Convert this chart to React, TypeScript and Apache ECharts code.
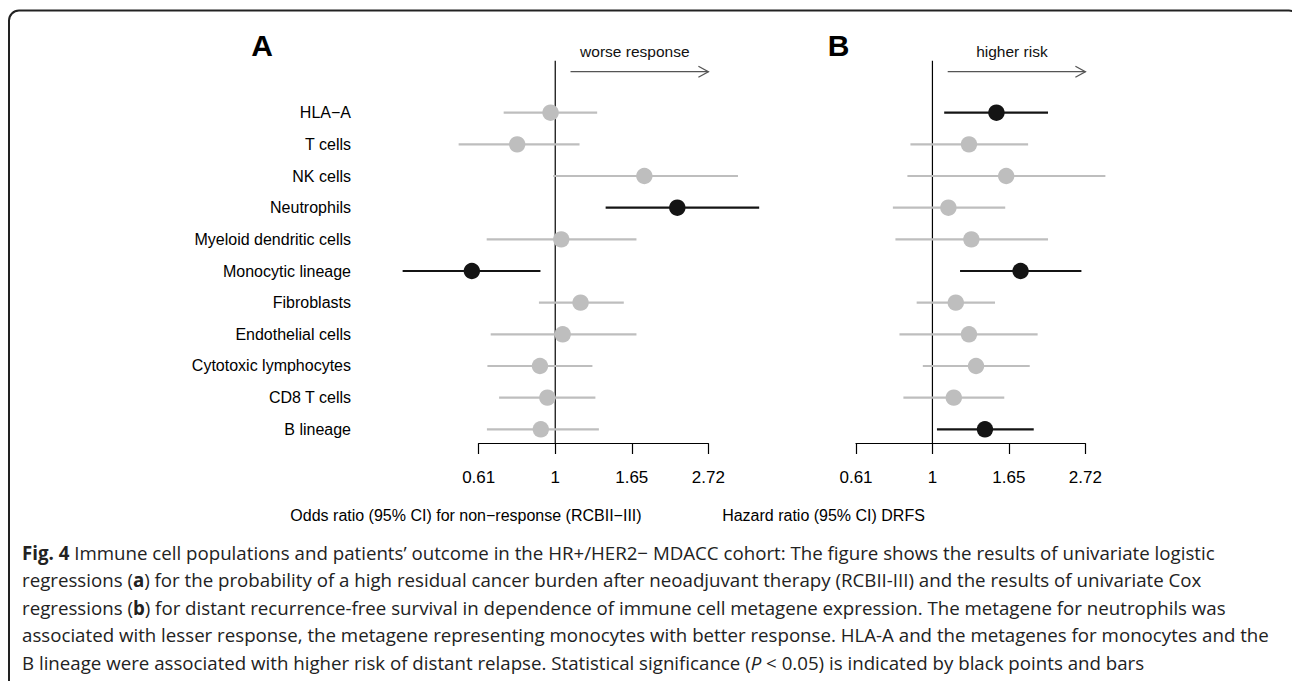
import React, { useEffect, useRef } from "react";
import * as echarts from "echarts";

// ---------------- data ----------------
const CATEGORIES = [
  "HLA−A",
  "T cells",
  "NK cells",
  "Neutrophils",
  "Myeloid dendritic cells",
  "Monocytic lineage",
  "Fibroblasts",
  "Endothelial cells",
  "Cytotoxic lymphocytes",
  "CD8 T cells",
  "B lineage",
];

// Panel A: odds ratio for non-response (RCBII-III)
const OR_EST = [0.97, 0.78, 1.79, 2.22, 1.04, 0.58, 1.18, 1.05, 0.905, 0.95, 0.91];
const OR_LOW = [0.714, 0.532, 0.987, 1.39, 0.639, 0.369, 0.899, 0.656, 0.642, 0.693, 0.64];
const OR_HIGH = [1.315, 1.172, 3.3, 3.79, 1.7, 0.908, 1.565, 1.7, 1.275, 1.3, 1.33];
const OR_SIG = [false, false, false, true, false, true, false, false, false, false, false];

// Panel B: hazard ratio DRFS
const HR_EST = [1.52, 1.27, 1.62, 1.11, 1.29, 1.78, 1.165, 1.27, 1.33, 1.15, 1.41];
const HR_LOW = [1.08, 0.866, 0.849, 0.772, 0.785, 1.198, 0.902, 0.806, 0.939, 0.827, 1.03];
const HR_HIGH = [2.13, 1.87, 3.1, 1.61, 2.13, 2.65, 1.506, 1.99, 1.89, 1.6, 1.94];
const HR_SIG = [true, false, false, false, false, true, false, false, false, false, true];

// axis ticks (natural-log scale): e^-0.5, e^0, e^0.5, e^1
const TICK_LABELS = ["0.61", "1", "1.65", "2.72"];

const PANEL_LETTERS = ["A", "B"];
const DIRECTION_LABELS = ["worse response", "higher risk"];
const AXIS_TITLES = [
  "Odds ratio (95% CI) for non−response (RCBII−III)",
  "Hazard ratio (95% CI) DRFS",
];
const ARROW_FROM = 1.105; // ratio where the direction arrow starts
const ARROW_TO = 2.72; // ratio where it ends

const CAPTION_LINES = [
  "{b|Fig. 4} Immune cell populations and patients’ outcome in the HR+/HER2− MDACC cohort: The figure shows the results of univariate logistic",
  "regressions ({b|a}) for the probability of a high residual cancer burden after neoadjuvant therapy (RCBII-III) and the results of univariate Cox",
  "regressions ({b|b}) for distant recurrence-free survival in dependence of immune cell metagene expression. The metagene for neutrophils was",
  "associated with lesser response, the metagene representing monocytes with better response. HLA-A and the metagenes for monocytes and the",
  "B lineage were associated with higher risk of distant relapse. Statistical significance ({i|P} < 0.05) is indicated by black points and bars",
];

// ---------------- styles ----------------
const GRAY = "#bebebe";
const BLACK = "#141414";
const SANS = "'Liberation Sans', Arial, Helvetica, sans-serif";
const CAP_FONT = "'Open Sans', 'Noto Sans', sans-serif";
const CAP_SIZE = 18.7;

function buildRows(est: number[], lo: number[], hi: number[], sig: boolean[]) {
  return est.map((e, i) => [i, Math.log(e), Math.log(lo[i]), Math.log(hi[i]), sig[i] ? 1 : 0]);
}

function forestItem(params: any, api: any) {
  const row = api.value(0);
  const pE = api.coord([api.value(1), row]);
  const pL = api.coord([api.value(2), row]);
  const pH = api.coord([api.value(3), row]);
  const color = api.value(4) ? BLACK : GRAY;
  return {
    type: "group",
    children: [
      {
        type: "line",
        shape: { x1: pL[0], y1: pL[1], x2: pH[0], y2: pH[1] },
        style: { stroke: color, lineWidth: 2.2 },
      },
      {
        type: "circle",
        shape: { cx: pE[0], cy: pE[1], r: 8.2 },
        style: { fill: color },
      },
    ],
  };
}

function refItem(label: string) {
  return (params: any, api: any) => {
    const top = api.coord([0, 0]);
    const bot = api.coord([0, CATEGORIES.length - 1]);
    const a0 = api.coord([Math.log(ARROW_FROM), 0]);
    const a1 = api.coord([Math.log(ARROW_TO), 0]);
    const tx = api.coord([0.52, 0]);
    const ay = top[1] - 41;
    return {
      type: "group",
      children: [
        {
          type: "line",
          shape: { x1: top[0], y1: top[1] - 52, x2: top[0], y2: bot[1] + 14 },
          style: { stroke: "#000", lineWidth: 1.2 },
        },
        {
          type: "line",
          shape: { x1: a0[0], y1: ay, x2: a1[0], y2: ay },
          style: { stroke: "#555", lineWidth: 1.3 },
        },
        {
          type: "polyline",
          shape: { points: [[a1[0] - 10, ay - 5.5], [a1[0], ay], [a1[0] - 10, ay + 5.5]] },
          style: { stroke: "#555", lineWidth: 1.3, fill: "none" },
        },
        {
          type: "text",
          style: {
            text: label,
            x: tx[0],
            y: top[1] - 61,
            align: "center",
            verticalAlign: "middle",
            fontSize: 15.5,
            fontFamily: SANS,
            fill: "#111",
          },
        },
      ],
    };
  };
}

function xAxisFor(gridIndex: number) {
  return {
    gridIndex,
    type: "value",
    min: -0.5,
    max: 1,
    interval: 0.5,
    offset: 14,
    axisLine: { show: true, onZero: false, lineStyle: { color: "#000", width: 1.2 } },
    axisTick: { show: true, length: 10.7, lineStyle: { color: "#000", width: 1.2 } },
    axisLabel: {
      margin: 26,
      fontSize: 17,
      fontFamily: SANS,
      color: "#000",
      formatter: (v: number) => TICK_LABELS[Math.round((v + 0.5) / 0.5)] ?? "",
    },
    splitLine: { show: false },
  };
}

function yAxisFor(gridIndex: number, showLabels: boolean) {
  return {
    gridIndex,
    type: "category",
    data: CATEGORIES,
    inverse: true,
    boundaryGap: false,
    axisLine: { show: false },
    axisTick: { show: false },
    splitLine: { show: false },
    axisLabel: {
      show: showLabels,
      margin: 127.7,
      fontSize: 16,
      fontFamily: SANS,
      color: "#000",
      interval: 0,
    },
  };
}

export default function App() {
  const ref = useRef<HTMLDivElement>(null);

  useEffect(() => {
    if (!ref.current) return;
    const chart = echarts.init(ref.current, undefined, { renderer: "svg" });

    const richCap = {
      b: { fontFamily: CAP_FONT, fontSize: CAP_SIZE, fontWeight: "bold", fill: "#222" },
      i: { fontFamily: CAP_FONT, fontSize: CAP_SIZE, fontStyle: "italic", fill: "#222" },
    };

    const graphics: any[] = [
      {
        type: "rect",
        silent: true,
        shape: { x: 9, y: 10.5, width: 1290, height: 720, r: 10 },
        style: { fill: "none", stroke: "#222", lineWidth: 2 },
      },
      ...PANEL_LETTERS.map((t, i) => ({
        type: "text",
        style: {
          text: t,
          x: i === 0 ? 262 : 838.5,
          y: 45,
          align: "center",
          verticalAlign: "middle",
          fontSize: 30,
          fontWeight: "bold",
          fontFamily: SANS,
          fill: "#000",
        },
      })),
      ...AXIS_TITLES.map((t, i) => ({
        type: "text",
        style: {
          text: t,
          x: i === 0 ? 466 : 823.5,
          y: 515,
          align: "center",
          verticalAlign: "middle",
          fontSize: 16,
          fontFamily: SANS,
          fill: "#000",
        },
      })),
      ...CAPTION_LINES.map((t, i) => ({
        type: "text",
        style: {
          text: t,
          x: 22,
          y: 552 + i * 27.6,
          align: "left",
          verticalAlign: "middle",
          fontSize: CAP_SIZE,
          fontFamily: CAP_FONT,
          fill: "#222",
          rich: richCap,
        },
      })),
    ];

    chart.setOption({
      animation: false,
      backgroundColor: "#fff",
      grid: [
        { left: 478.7, top: 112.7, width: 229.6, height: 316.6 },
        { left: 856, top: 112.7, width: 229.3, height: 316.6 },
      ],
      xAxis: [xAxisFor(0), xAxisFor(1)],
      yAxis: [yAxisFor(0, true), yAxisFor(1, false)],
      series: [
        {
          type: "custom",
          name: "ref A",
          xAxisIndex: 0,
          yAxisIndex: 0,
          data: [[0]],
          renderItem: refItem(DIRECTION_LABELS[0]),
          z: 1,
          silent: true,
        },
        {
          type: "custom",
          name: "ref B",
          xAxisIndex: 1,
          yAxisIndex: 1,
          data: [[0]],
          renderItem: refItem(DIRECTION_LABELS[1]),
          z: 1,
          silent: true,
        },
        {
          type: "custom",
          name: "Odds ratio",
          xAxisIndex: 0,
          yAxisIndex: 0,
          data: buildRows(OR_EST, OR_LOW, OR_HIGH, OR_SIG),
          encode: { x: [1, 2, 3], y: 0 },
          renderItem: forestItem,
          clip: false,
          z: 2,
        },
        {
          type: "custom",
          name: "Hazard ratio",
          xAxisIndex: 1,
          yAxisIndex: 1,
          data: buildRows(HR_EST, HR_LOW, HR_HIGH, HR_SIG),
          encode: { x: [1, 2, 3], y: 0 },
          renderItem: forestItem,
          clip: false,
          z: 2,
        },
      ],
      graphic: graphics,
    });

    return () => chart.dispose();
  }, []);

  return (
    <div
      ref={ref}
      style={{ position: "fixed", left: 0, top: 0, width: 1292, height: 681, background: "#fff" }}
    />
  );
}
